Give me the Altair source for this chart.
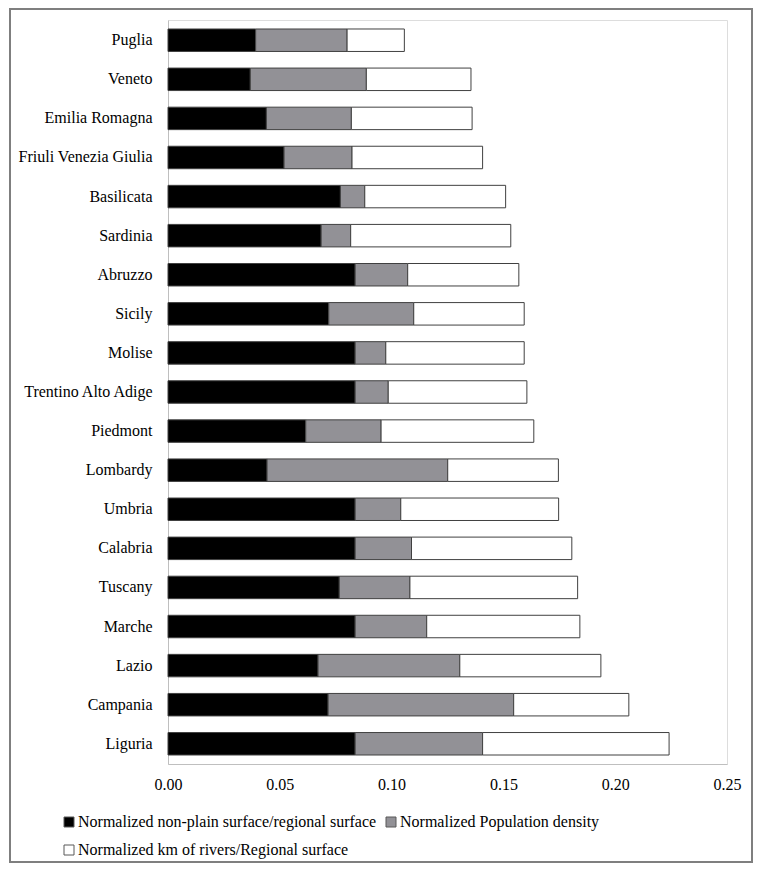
import altair as alt
import pandas as pd

regions = ["Puglia", "Veneto", "Emilia Romagna", "Friuli Venezia Giulia", "Basilicata",
           "Sardinia", "Abruzzo", "Sicily", "Molise", "Trentino Alto Adige", "Piedmont",
           "Lombardy", "Umbria", "Calabria", "Tuscany", "Marche", "Lazio", "Campania", "Liguria"]
non_plain = [0.0392, 0.0368, 0.0440, 0.0519, 0.0771, 0.0685, 0.0837, 0.0719, 0.0837, 0.0837,
             0.0616, 0.0443, 0.0837, 0.0837, 0.0766, 0.0837, 0.0671, 0.0716, 0.0837]
pop_density = [0.0409, 0.0519, 0.0380, 0.0304, 0.0109, 0.0132, 0.0235, 0.0380, 0.0137, 0.0148,
               0.0337, 0.0808, 0.0204, 0.0252, 0.0316, 0.0320, 0.0634, 0.0830, 0.0570]
rivers = [0.0256, 0.0468, 0.0540, 0.0584, 0.0630, 0.0716, 0.0497, 0.0494, 0.0619, 0.0620,
          0.0683, 0.0495, 0.0706, 0.0717, 0.0750, 0.0685, 0.0631, 0.0515, 0.0834]

series = ["Normalized non-plain surface/regional surface",
          "Normalized Population density",
          "Normalized km of rivers/Regional surface"]
colors = ["#000000", "#929196", "#ffffff"]
x_ticks = [0.0, 0.05, 0.10, 0.15, 0.20, 0.25]

rows = []
for i, r in enumerate(regions):
    for k, vals in enumerate([non_plain, pop_density, rivers]):
        rows.append({"region": r, "series": series[k], "value": vals[i], "idx": k})
df = pd.DataFrame(rows)

FONT = "Liberation Serif"

bars = alt.Chart(df).mark_bar(stroke="#404040", strokeWidth=1).encode(
    y=alt.Y("region:N", sort=regions, title=None,
            scale=alt.Scale(paddingInner=0.425, paddingOuter=0.23),
            axis=alt.Axis(domainColor="#bfbfbf", domainWidth=1, ticks=False,
                          labelFont=FONT, labelFontSize=16, labelColor="#000000",
                          labelPadding=16, labelLimit=400)),
    x=alt.X("value:Q", stack="zero", title=None,
            scale=alt.Scale(domain=[0, 0.25], nice=False, zero=True),
            axis=alt.Axis(values=x_ticks, format=".2f", grid=False, ticks=False,
                          domainColor="#bfbfbf", domainWidth=1, labelPadding=12,
                          labelFont=FONT, labelFontSize=16, labelColor="#000000",
                          labelFlush=False, labelOverlap=False)),
    color=alt.Color("series:N", scale=alt.Scale(domain=series, range=colors),
                    legend=alt.Legend(title=None, orient="none", legendX=-107, legendY=794,
                                      direction="horizontal", columns=2,
                                      symbolType="square", symbolSize=100,
                                      symbolStrokeColor="#595959", symbolStrokeWidth=1,
                                      labelFont=FONT, labelFontSize=16, labelColor="#000000",
                                      labelLimit=600, labelOffset=1, columnPadding=6,
                                      rowPadding=12, padding=0)),
    order=alt.Order("idx:Q"),
)

frame = alt.Chart(pd.DataFrame({"f": [0]})).mark_rect(
    fill="#ffffff", fillOpacity=0, stroke="#7f7f7f", strokeWidth=2
).encode(
    x=alt.value(-158), x2=alt.value(584), y=alt.value(-11), y2=alt.value(842)
)

chart = alt.layer(bars, frame).properties(
    width=559, height=744,
    padding={"left": 160, "top": 12, "right": 26, "bottom": 100},
    autosize=alt.AutoSizeParams(type="none"),
).configure_view(strokeWidth=0).configure(font=FONT)

chart.save("out.html", embed_options={"renderer": "svg", "actions": False})
